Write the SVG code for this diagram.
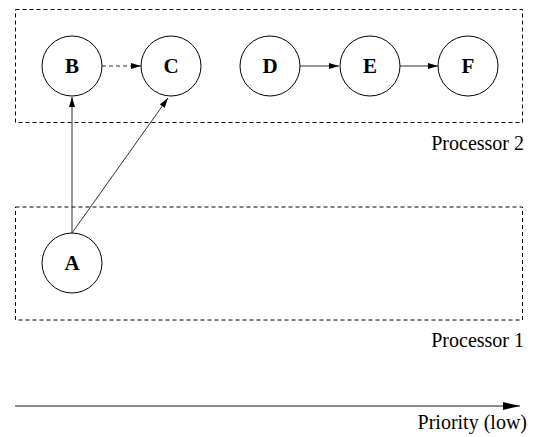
<svg xmlns="http://www.w3.org/2000/svg" width="538" height="437" viewBox="0 0 538 437">
<style>
.box{fill:none;stroke:#000;stroke-width:1;stroke-dasharray:4,3}
.node circle{fill:#fff;stroke:#000;stroke-width:1}
.node text{font-family:"Liberation Serif",serif;font-weight:bold;font-size:21px;text-anchor:middle}
.lbl{font-family:"Liberation Serif",serif;font-size:20px;text-anchor:end}
.edge{fill:none;stroke:#333;stroke-width:1}
</style>
<defs>
<marker id="ah" viewBox="0 0 10 6" refX="10" refY="3" markerWidth="10" markerHeight="6" markerUnits="userSpaceOnUse" orient="auto">
<path d="M0,0 L10,3 L0,6 Z" fill="#000"/>
</marker>
<marker id="big" viewBox="0 0 17 8" refX="17" refY="4" markerWidth="17" markerHeight="8" markerUnits="userSpaceOnUse" orient="auto">
<path d="M0,0 L17,4 L0,8 Z" fill="#000"/>
</marker>
</defs>
<rect class="box" x="15.5" y="9.5" width="507" height="113"/>
<rect class="box" x="15.5" y="207" width="507" height="113"/>
<text class="lbl" x="524" y="150">Processor 2</text>
<text class="lbl" x="524" y="347">Processor 1</text>
<g id="edges">
<line class="edge" x1="102" y1="66" x2="141" y2="66" stroke-dasharray="4,3" marker-end="url(#ah)"/>
<line class="edge" x1="300" y1="66" x2="339" y2="66" marker-end="url(#ah)"/>
<line class="edge" x1="400" y1="66" x2="438" y2="66" marker-end="url(#ah)"/>
<line class="edge" x1="72" y1="233" x2="72" y2="97" marker-end="url(#ah)"/>
<line class="edge" x1="72" y1="233" x2="168" y2="98" marker-end="url(#ah)"/>
<line x1="15" y1="406" x2="520" y2="406" stroke="#666" stroke-width="1.6" marker-end="url(#big)"/>
</g>
<g id="B" class="node"><circle cx="72" cy="66" r="30"/><text x="72" y="73">B</text></g>
<g id="C" class="node"><circle cx="171" cy="66" r="30"/><text x="171" y="73">C</text></g>
<g id="D" class="node"><circle cx="270" cy="66" r="30"/><text x="270" y="73">D</text></g>
<g id="E" class="node"><circle cx="370" cy="66" r="30"/><text x="370" y="73">E</text></g>
<g id="F" class="node"><circle cx="468" cy="66" r="30"/><text x="468" y="73">F</text></g>
<g id="A" class="node"><circle cx="72" cy="263" r="30"/><text x="72" y="270">A</text></g>
<text class="lbl" x="527" y="429">Priority (low)</text>
</svg>
